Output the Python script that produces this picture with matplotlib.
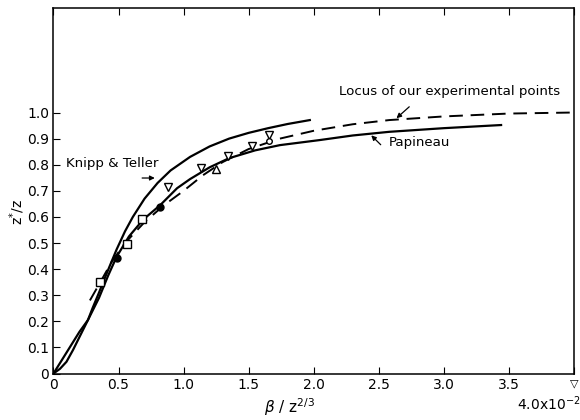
import numpy as np
import matplotlib.pyplot as plt

plt.rcParams['font.family'] = 'DejaVu Sans'

# curves
knipp_x = [0, 0.05, 0.1, 0.15, 0.2, 0.265, 0.3, 0.35, 0.41, 0.485, 0.55, 0.61, 0.7, 0.8, 0.9, 1.05, 1.2, 1.35, 1.5, 1.65, 1.8, 1.97]
knipp_y = [0, 0.018, 0.045, 0.09, 0.14, 0.205, 0.25, 0.31, 0.385, 0.475, 0.545, 0.60, 0.67, 0.73, 0.778, 0.83, 0.87, 0.90, 0.922, 0.94, 0.956, 0.971]

pap_x = [0, 0.1, 0.2, 0.265, 0.35, 0.42, 0.485, 0.58, 0.69, 0.82, 0.95, 1.05, 1.2, 1.35, 1.55, 1.74, 2.04, 2.3, 2.58, 3.0, 3.44]
pap_y = [0, 0.08, 0.16, 0.205, 0.29, 0.375, 0.447, 0.525, 0.59, 0.645, 0.71, 0.745, 0.79, 0.825, 0.855, 0.875, 0.894, 0.912, 0.926, 0.94, 0.952]

locus_x = [0.28, 0.36, 0.45, 0.55, 0.7, 0.85, 1.0, 1.15, 1.3, 1.5, 1.74, 2.0, 2.3, 2.58, 3.0, 3.5, 4.0]
locus_y = [0.28, 0.35, 0.43, 0.50, 0.58, 0.645, 0.70, 0.76, 0.81, 0.86, 0.90, 0.93, 0.955, 0.971, 0.985, 0.996, 1.0]

# experimental points
sq_x = [0.36, 0.566, 0.68]
sq_y = [0.352, 0.496, 0.592]
dot_x = [0.49, 0.82]
dot_y = [0.444, 0.637]
tri_dn_x = [0.88, 1.137, 1.34, 1.525, 1.655]
tri_dn_y = [0.713, 0.786, 0.835, 0.873, 0.913]
tri_up_x = [1.246]
tri_up_y = [0.782]
circ_x = [1.655]
circ_y = [0.89]

xticks = [0, 0.5, 1.0, 1.5, 2.0, 2.5, 3.0, 3.5, 4.0]
xticklabels = ['0', '0.5', '1.0', '1.5', '2.0', '2.5', '3.0', '3.5', '']
yticks = [0, 0.1, 0.2, 0.3, 0.4, 0.5, 0.6, 0.7, 0.8, 0.9, 1.0]
yticklabels = ['0', '0.1', '0.2', '0.3', '0.4', '0.5', '0.6', '0.7', '0.8', '0.9', '1.0']

fig = plt.figure(figsize=(5.8, 4.2), dpi=100)
ax = fig.add_axes([0.0922, 0.1107, 0.8974, 0.870])

ax.plot(knipp_x, knipp_y, color='k', lw=1.6)
ax.plot(pap_x, pap_y, color='k', lw=1.6)
ax.plot(locus_x, locus_y, color='k', lw=1.4, dashes=(7, 4))

mk = dict(ls='none', mfc='white', mec='k', mew=1.0, ms=5.5)
ax.plot(sq_x, sq_y, marker='s', **mk)
ax.plot(tri_dn_x, tri_dn_y, marker='v', **mk)
ax.plot(tri_up_x, tri_up_y, marker='^', **mk)
ax.plot(circ_x, circ_y, marker='o', ls='none', mfc='white', mec='k', mew=1.0, ms=4)
ax.plot(dot_x, dot_y, marker='o', ls='none', color='k', ms=5)

ax.set_xlim(0, 4.0)
ax.set_ylim(0, 1.4)
ax.set_xticks(xticks)
ax.set_xticklabels(xticklabels)
ax.set_yticks(yticks)
ax.set_yticklabels(yticklabels)
ax.tick_params(direction='in', length=5, width=0.8, labelsize=10, top=True, right=False, pad=3)
for s in ax.spines.values():
    s.set_linewidth(1.1)

# annotations
ax.text(0.096, 0.806, 'Knipp & Teller', fontsize=9.6, va='center', ha='left')
ax.annotate('', xy=(0.80, 0.749), xytext=(0.66, 0.749),
            arrowprops=dict(arrowstyle='-|>', color='k', lw=0.9, mutation_scale=7))
ax.text(2.197, 1.079, 'Locus of our experimental points', fontsize=9.6, va='center', ha='left')
ax.annotate('', xy=(2.62, 0.971), xytext=(2.75, 1.029),
            arrowprops=dict(arrowstyle='-|>', color='k', lw=0.9, mutation_scale=7))
ax.text(2.58, 0.884, 'Papineau', fontsize=9.6, va='center', ha='left')
ax.annotate('', xy=(2.427, 0.92), xytext=(2.53, 0.869),
            arrowprops=dict(arrowstyle='-|>', color='k', lw=0.9, mutation_scale=7))

ax.text(4.0, -0.02, '\u25bd', fontsize=8, ha='center', va='top')
fig.text(549 / 580, 1 - 404 / 420, r'4.0x10$^{-2}$', fontsize=10, ha='center', va='center')
fig.text(290 / 580, 1 - 407 / 420, r'$\beta$ / z$^{2/3}$', fontsize=11, ha='center', va='center')
fig.text(17 / 580, 1 - 212 / 420, r'z$^{*}$/z', fontsize=10, ha='center', va='center', rotation=90)

fig.savefig('out.png', dpi=100)
